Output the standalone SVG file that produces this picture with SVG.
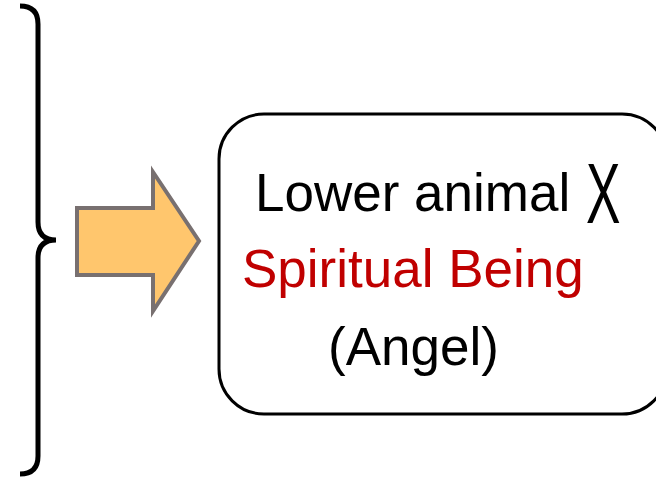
<svg xmlns="http://www.w3.org/2000/svg" width="656" height="480" viewBox="0 0 656 480">
  <style>
    .t { font-family: "Liberation Sans", Arial, sans-serif; font-size: 53px; fill: #000; }
    .red { fill: #C00000; }
  </style>
  <rect width="656" height="480" fill="#fff"/>
  <g id="brace">
    <path d="M20,6 C32,6 38,12 38,24 L38,222 C38,234 44,240 56,240 C44,240 38,246 38,258 L38,456 C38,468 32,474 20,474" fill="none" stroke="#000" stroke-width="5"/>
  </g>
  <g id="connectors">
    <path d="M77,208 L153,208 L153,172 L199,241 L153,311 L153,275 L77,275 Z" fill="#FFC66D" stroke="#787070" stroke-width="4" stroke-linejoin="miter"/>
  </g>
  <g id="box">
    <rect x="219" y="114" width="448" height="300" rx="45" ry="45" fill="#fff" stroke="#000" stroke-width="3"/>
    <text class="t" x="255" y="211">Lower animal</text>
    <text class="t" transform="translate(586,223) scale(0.6,1)" style="font-size:86px">X</text>
    <text class="t red" x="242" y="287">Spiritual Being</text>
    <text class="t" x="328" y="365">(Angel)</text>
  </g>
</svg>
